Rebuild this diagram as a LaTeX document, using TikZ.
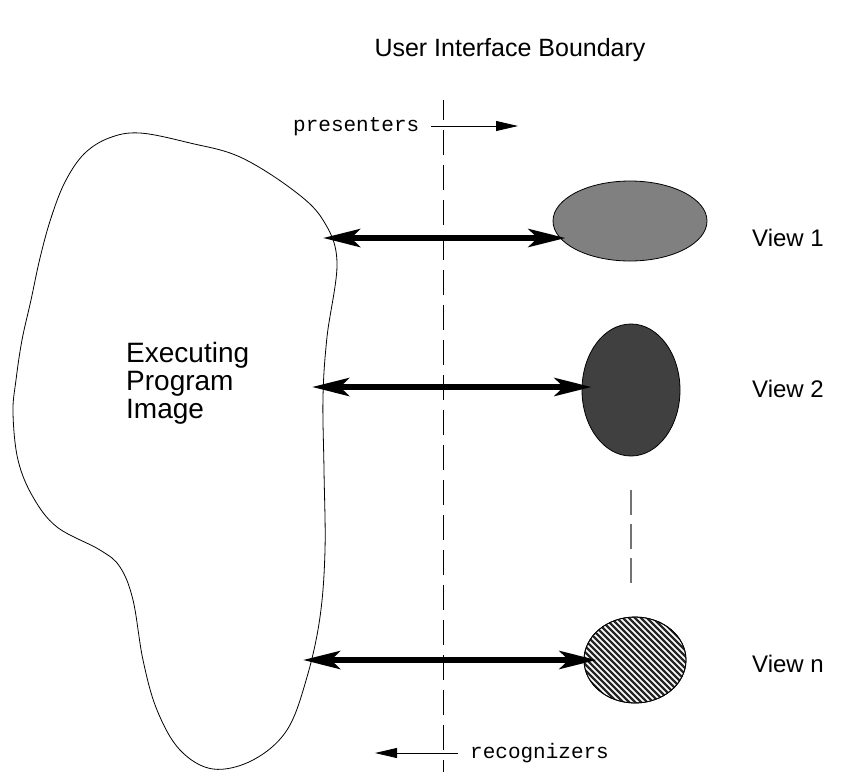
\documentclass[tikz,border=0pt]{standalone}
\usepackage{fontspec}
\setmainfont{Liberation Sans}
\setmonofont{Liberation Mono}
\usetikzlibrary{arrows.meta,shapes}

\begin{document}
\begin{tikzpicture}[x=1pt,y=-1pt]
                \tikzstyle{every node}+=[inner sep=0pt]
                \tikzstyle{view}=[draw=black,ellipse,line width=0.8pt]
                \tikzstyle{biarrow}=[line width=6pt,{Stealth[length=37pt,width=18pt,inset=9pt]}-{Stealth[length=37pt,width=18pt,inset=9pt]}]
                \tikzstyle{thinarrow}=[line width=0.8pt,-{Triangle[length=22pt,width=10pt]}]
                \useasboundingbox (0,0) rectangle (842,772);
                % title and boundary
                \node [anchor=base,font=\fontsize{25}{25}\selectfont] (title) at (510,56) {User Interface Boundary};
                \coordinate (btop) at (443,100);
                \coordinate (bbot) at (443,772);
                \draw [black,line width=0.8pt,dash pattern=on 25pt off 10pt,dash phase=5pt] (btop) -- (bbot);
                \node [anchor=base west,font=\ttfamily\fontsize{21}{21}\selectfont] (pres) at (293,131) {presenters};
                \coordinate (presend) at (518,126);
                \draw [thinarrow] ([xshift=12pt]pres.east |- presend) -- (presend);
                \node [anchor=base west,font=\ttfamily\fontsize{21}{21}\selectfont] (recog) at (470,758) {recognizers};
                \coordinate (recend) at (375,753);
                \draw [thinarrow] ([xshift=-12pt]recog.west |- recend) -- (recend);
                % program image
                \draw [black,line width=0.8pt] plot [smooth cycle,tension=0.6] coordinates {(140,133) (190,143) (240,157) (293,190) (323,220) (337,262) (327,337) (323,397) (324,470) (325,550) (320,617) (307,677) (287,730) (253,760) (213,769) (180,750) (157,710) (143,660) (133,600) (120,567) (100,550) (57,527) (33,497) (18,460) (13,413) (16,380) (22,340) (31,300) (40,258) (51,218) (65,182) (84,154) (109,138)};
                \node [anchor=north west,align=left,font=\fontsize{28}{28}\selectfont] (prog) at (126,342) {Executing\\Program\\Image};
                % views
                \node [view,fill={rgb,255:red,128;green,128;blue,128},minimum width=154pt,minimum height=80pt] (v1) at (630,221) {};
                \node [view,fill={rgb,255:red,64;green,64;blue,64},minimum width=98pt,minimum height=132pt] (v2) at (631,390) {};
                \node [view,minimum width=102pt,minimum height=86pt] (v3) at (635,660) {};
                \begin{scope}
                \clip (v3.center) ellipse [x radius=51pt,y radius=43pt];
                \foreach \k in {-156,-150,...,156}
                    \draw [black!85,line width=2.2pt] (635+\k-60,600) -- (635+\k+60,720);
                \end{scope}
                \draw [black,line width=0.8pt] (v3.center) ellipse [x radius=51pt,y radius=43pt];
                \coordinate (gtop) at (631,490);
                \coordinate (gbot) at (631,585);
                \draw [black!55,line width=1.6pt,dash pattern=on 25pt off 9pt] (gtop) -- (gbot);
                \node [anchor=base west,font=\fontsize{24}{24}\selectfont] (lab1) at (752,246) {View 1};
                \node [anchor=base west,font=\fontsize{24}{24}\selectfont] (lab2) at (752,397) {View 2};
                \node [anchor=base west,font=\fontsize{24}{24}\selectfont] (lab3) at (752,672) {View n};
                % presenter / recognizer links
                \coordinate (p1) at (323,238);
                \coordinate (p2) at (312,387);
                \coordinate (p3) at (303,660);
                \draw [biarrow] (p1) -- ([xshift=13pt]v1.west |- p1);
                \draw [biarrow] (p2) -- ([xshift=10pt]v2.west |- p2);
                \draw [biarrow] (p3) -- ([xshift=13pt]v3.west |- p3);
\end{tikzpicture}
\end{document}
